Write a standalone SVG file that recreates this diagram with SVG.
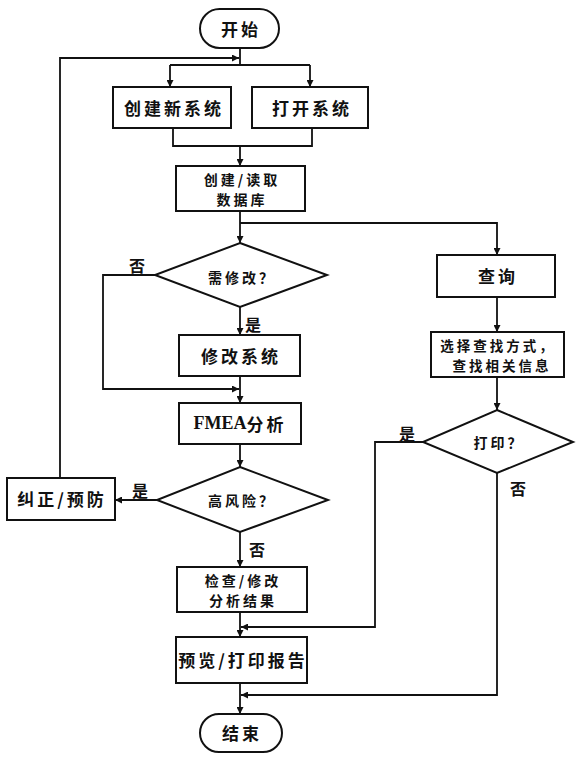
<svg xmlns="http://www.w3.org/2000/svg" width="581" height="757" viewBox="0 0 581 757">
<defs>
<marker id="ah" viewBox="0 0 10 10" refX="10" refY="5" markerWidth="7" markerHeight="7" markerUnits="userSpaceOnUse" orient="auto">
<path d="M0,0 L10,5 L0,10 z" fill="#111"/>
</marker>
<style>
.box{fill:#fff;stroke:#111;stroke-width:2}
.ln{fill:none;stroke:#111;stroke-width:1.8}
.ar{fill:none;stroke:#111;stroke-width:1.8;marker-end:url(#ah)}
text{font-family:"Noto Sans CJK SC","Liberation Sans",sans-serif;font-weight:bold;fill:#111;text-anchor:middle;dominant-baseline:central}
.big{font-size:17px;letter-spacing:3px}
.sm{font-size:14px;letter-spacing:3px}
.xs{font-size:13.5px;letter-spacing:3px}
.lb{font-size:16px}
.serif{font-family:"Liberation Serif",serif;font-size:18px;letter-spacing:0}
</style>
</defs>
<rect width="581" height="757" fill="#fff"/>
<g id="connectors">
<path class="ln" d="M240,48 V65"/>
<path class="ln" d="M170,65 H310"/>
<path class="ar" d="M170,65 V87"/>
<path class="ar" d="M310,65 V87"/>
<path class="ar" d="M60,478 V58 H239"/>
<path class="ln" d="M173,128 V146 H312 V128"/>
<path class="ar" d="M240,146 V166"/>
<path class="ar" d="M240,211 V243"/>
<path class="ar" d="M240,223 H497 V255"/>
<path class="ar" d="M497,297 V332"/>
<path class="ar" d="M497,377 V410"/>
<path class="ar" d="M423,442 H375 V627 H241"/>
<path class="ar" d="M497,473 V695 H241"/>
<path class="ar" d="M155,275 H103 V389 H239"/>
<path class="ar" d="M240,307 V335"/>
<path class="ar" d="M240,376 V403"/>
<path class="ar" d="M240,444 V467"/>
<path class="ar" d="M157,500 H115"/>
<path class="ar" d="M240,532 V567"/>
<path class="ar" d="M240,612 V637"/>
<path class="ar" d="M240,683 V714"/>
<text class="lb" x="137" y="265">否</text>
<text class="lb" x="253" y="324">是</text>
<text class="lb" x="140" y="490">是</text>
<text class="lb" x="257" y="549">否</text>
<text class="lb" x="407" y="433">是</text>
<text class="lb" x="518" y="488">否</text>
</g>
<g id="start"><rect class="box" x="200" y="9" width="79" height="39" rx="19.5"/><text class="big" x="241" y="28">开始</text></g>
<g id="newsys"><rect class="box" x="113" y="87" width="118" height="41"/><text class="big" x="174" y="107">创建新系统</text></g>
<g id="opensys"><rect class="box" x="252" y="87" width="116" height="41"/><text class="big" x="312" y="107">打开系统</text></g>
<g id="db"><rect class="box" x="176" y="166" width="129" height="45"/><text class="sm" x="242" y="179">创建/读取</text><text class="sm" x="242" y="199">数据库</text></g>
<g id="needmod"><polygon class="box" points="240,243 327,275 240,307 155,275"/><text class="sm" x="242" y="277">需修改？</text></g>
<g id="modsys"><rect class="box" x="179" y="335" width="121" height="41"/><text class="big" x="241" y="355">修改系统</text></g>
<g id="fmea"><rect class="box" x="179" y="403" width="122" height="41"/><text class="big" x="240" y="423"><tspan class="serif">FMEA</tspan>分析</text></g>
<g id="highrisk"><polygon class="box" points="240,467 328,500 240,532 157,500"/><text class="sm" x="242" y="500">高风险？</text></g>
<g id="correct"><rect class="box" x="7" y="478" width="108" height="42"/><text class="big" x="62" y="498">纠正/预防</text></g>
<g id="check"><rect class="box" x="177" y="567" width="130" height="45"/><text class="sm" x="243" y="580">检查/修改</text><text class="sm" x="243" y="600">分析结果</text></g>
<g id="report"><rect class="box" x="176" y="637" width="131" height="46"/><text class="big" x="243" y="659">预览/打印报告</text></g>
<g id="end"><rect class="box" x="200" y="714" width="82" height="38" rx="19"/><text class="big" x="242" y="732">结束</text></g>
<g id="query"><rect class="box" x="437" y="255" width="118" height="42"/><text class="big" x="498" y="275">查询</text></g>
<g id="select"><rect class="box" x="431" y="332" width="133" height="45"/><text class="xs" x="498" y="345">选择查找方式，</text><text class="xs" x="502" y="365">查找相关信息</text></g>
<g id="print"><polygon class="box" points="497,410 573,442 497,473 423,442"/><text class="sm" x="499" y="442">打印？</text></g>
</svg>
